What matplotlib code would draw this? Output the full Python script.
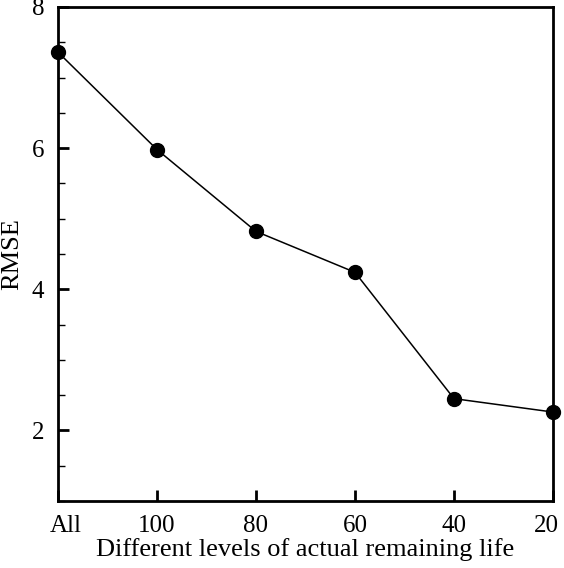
import numpy as np
import matplotlib.pyplot as plt
from matplotlib.ticker import MultipleLocator
from matplotlib.transforms import ScaledTranslation

levels = ['All', '100', '80', '60', '40', '20']
rmse = [7.36, 5.98, 4.82, 4.24, 2.45, 2.26]

plt.rcParams['font.family'] = 'Liberation Serif'

fig = plt.figure(figsize=(5.64, 5.68), dpi=100)
ax = fig.add_axes([0.1028, 0.118, 0.8777, 0.8697])

x = np.arange(len(levels))
ax.plot(x, rmse, color='black', lw=1.1, marker='o', markersize=10, clip_on=False, zorder=3)

ax.set_xlim(0, len(levels) - 1)
ax.set_ylim(1, 8)
ax.set_xticks(x)
ax.set_xticklabels(levels)
ax.set_yticks([2, 4, 6, 8])
ax.yaxis.set_minor_locator(MultipleLocator(0.5))

ax.tick_params(axis='both', which='major', direction='in', length=8, width=2, labelsize=18)
ax.tick_params(axis='y', which='minor', direction='in', length=5, width=1)
ax.tick_params(axis='x', which='major', pad=10)
ax.tick_params(axis='y', which='major', pad=10)
for s in ax.spines.values():
    s.set_linewidth(2)

# first and last labels sit a bit inside the frame
labels = ax.get_xticklabels()
labels[0].set_transform(labels[0].get_transform() + ScaledTranslation(0.08, 0, fig.dpi_scale_trans))
labels[-1].set_transform(labels[-1].get_transform() + ScaledTranslation(-0.07, 0, fig.dpi_scale_trans))

ax.set_xlabel('Different levels of actual remaining life', fontsize=19, labelpad=1)
ax.set_ylabel('RMSE', fontsize=19, labelpad=6)

fig.savefig('out.png', dpi=100)
